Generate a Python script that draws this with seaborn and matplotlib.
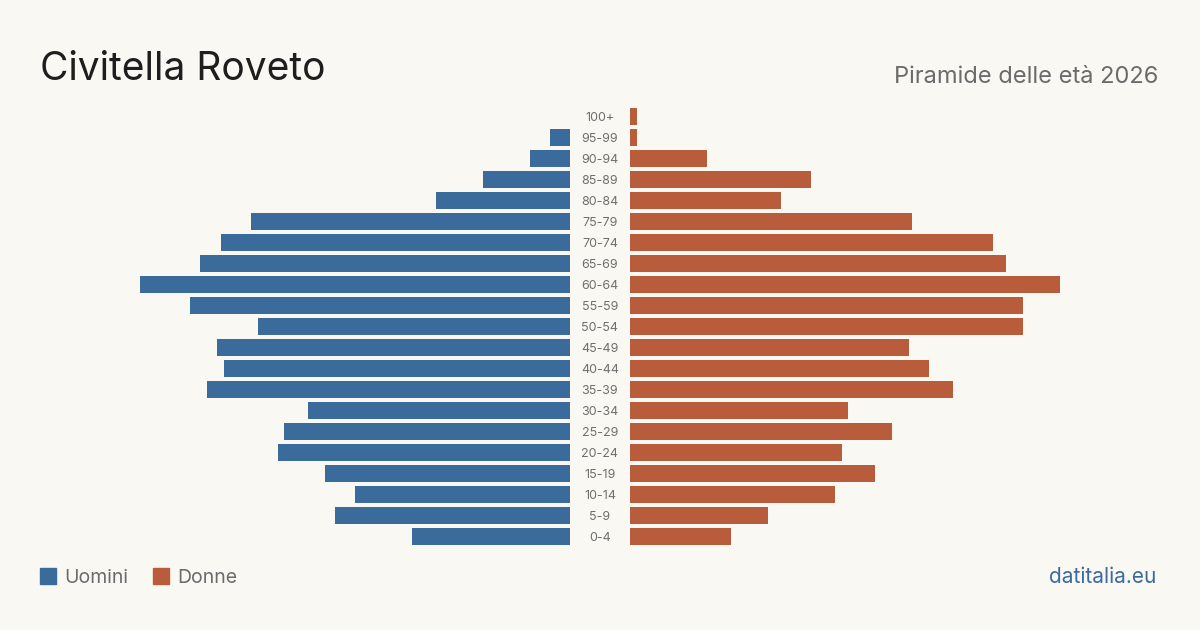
import matplotlib
matplotlib.use("Agg")
import matplotlib.pyplot as plt
import matplotlib.transforms as mtransforms
from matplotlib.patches import Rectangle
import pandas as pd
import seaborn as sns

# data (top to bottom, oldest first)
age_groups = ["100+", "95-99", "90-94", "85-89", "80-84", "75-79", "70-74", "65-69",
              "60-64", "55-59", "50-54", "45-49", "40-44", "35-39", "30-34", "25-29",
              "20-24", "15-19", "10-14", "5-9", "0-4"]
uomini = [0, 2.9, 5.9, 12.8, 19.7, 46.9, 51.3, 54.4, 63.2, 55.9, 45.9, 51.9,
          50.9, 53.4, 38.5, 42.1, 42.9, 36.0, 31.6, 34.6, 23.2]
donne = [1.0, 1.0, 11.3, 26.6, 22.2, 41.5, 53.4, 55.3, 63.2, 57.8, 57.8, 41.0,
         44.0, 47.5, 32.0, 38.5, 31.2, 36.0, 30.1, 20.3, 14.9]

df = pd.DataFrame({"eta": age_groups, "Uomini": uomini, "Donne": donne})

BG = "#f9f8f3"
BLUE = "#3b6b9b"
ORANGE = "#b95c3c"

sns.set_style("white")
plt.rcParams["font.family"] = ["Inter", "DejaVu Sans"]

fig = plt.figure(figsize=(12, 6.3), dpi=100, facecolor=BG)
W, H = 1200, 630
xmax = 530 / 6.8

bottom = 1 - 547 / H
height = 441 / H
ax_l = fig.add_axes([40 / W, bottom, 530 / W, height])
ax_r = fig.add_axes([630 / W, bottom, 530 / W, height])

sns.barplot(data=df, y="eta", x="Uomini", color=BLUE, orient="h",
            width=0.81, saturation=1, linewidth=0, ax=ax_l)
sns.barplot(data=df, y="eta", x="Donne", color=ORANGE, orient="h",
            width=0.81, saturation=1, linewidth=0, ax=ax_r)

ax_l.set_xlim(xmax, 0)
ax_r.set_xlim(0, xmax)
for ax in (ax_l, ax_r):
    ax.set_facecolor("none")
    ax.set_xlabel("")
    ax.set_ylabel("")
    ax.set_xticks([])
    ax.set_yticks([])
    for s in ax.spines.values():
        s.set_visible(False)
    ax.set_ylim(len(age_groups) - 0.5, -0.5)

# age labels centred between the two halves
trans = mtransforms.blended_transform_factory(fig.transFigure, ax_r.transData)
for i, lab in enumerate(age_groups):
    fig.text(0.5, i + 0.05, lab, transform=trans, ha="center", va="center",
             fontsize=9, color="#6f6f6f")

fig.text(40 / W, 1 - 80 / H, "Civitella Roveto", fontsize=28, color="#1e1e1e",
         va="baseline", ha="left")
fig.text(1158 / W, 1 - 83 / H, "Piramide delle età 2026", fontsize=17,
         color="#6b6b6b", va="baseline", ha="right")

# legend
for x0, col, lab, tx in [(40, BLUE, "Uomini", 64), (153, ORANGE, "Donne", 177)]:
    fig.patches.append(Rectangle((x0 / W, 1 - 584 / H), 16 / W, 16 / H,
                                 transform=fig.transFigure, color=col))
    fig.text(tx / W, 1 - 583 / H, lab, fontsize=14, color="#6b6b6b",
             va="baseline", ha="left")

fig.text(1156 / W, 1 - 583 / H, "datitalia.eu", fontsize=15, color="#3d6a9e",
         va="baseline", ha="right")

fig.savefig("out.png", dpi=100, facecolor=BG)
